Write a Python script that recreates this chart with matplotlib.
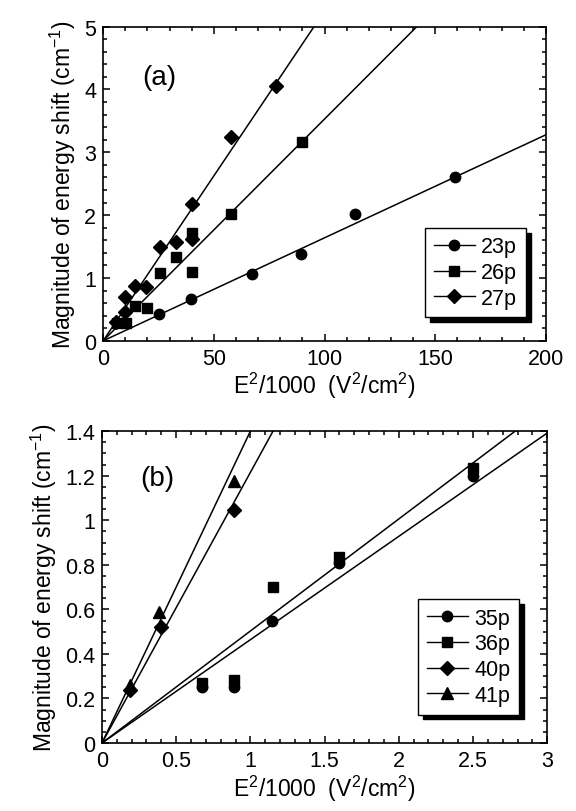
import numpy as np
import matplotlib
matplotlib.use("Agg")
import matplotlib.pyplot as plt
from matplotlib.ticker import MultipleLocator, FormatStrFormatter

plt.rcParams["font.family"] = ["Liberation Sans", "DejaVu Sans"]
plt.rcParams["mathtext.fontset"] = "custom"
plt.rcParams["mathtext.rm"] = "Liberation Sans"
plt.rcParams["mathtext.it"] = "Liberation Sans:italic"
plt.rcParams["mathtext.bf"] = "Liberation Sans:bold"

# -----------------------------
# Dados painel (a)
# -----------------------------
x_23p = [25.4, 39.7, 67.1, 89.4, 113.8, 159.0]
y_23p = [0.43, 0.66, 1.07, 1.38, 2.02, 2.61]

x_26p = [6.2, 10.5, 14.6, 19.8, 25.7, 32.8, 40.2, 40.2, 57.6, 89.7]
y_26p = [0.29, 0.28, 0.56, 0.52, 1.08, 1.34, 1.72, 1.09, 2.02, 3.17]

x_27p = [5.7, 9.9, 9.9, 14.6, 19.5, 25.7, 32.8, 40.2, 40.2, 57.6, 78.0]
y_27p = [0.30, 0.46, 0.70, 0.88, 0.85, 1.49, 1.58, 1.62, 2.17, 3.24, 4.05]

slopes_a = {"23p": 0.0164, "26p": 0.0353, "27p": 0.0525}

# -----------------------------
# Dados painel (b)
# -----------------------------
x_35p = [0.672, 0.89, 1.144, 1.594, 2.5]
y_35p = [0.25, 0.25, 0.55, 0.81, 1.20]

x_36p = [0.672, 0.89, 1.151, 1.594, 2.5]
y_36p = [0.27, 0.285, 0.70, 0.835, 1.235]

x_40p = [0.19, 0.396, 0.89]
y_40p = [0.24, 0.52, 1.045]

x_41p = [0.19, 0.386, 0.89]
y_41p = [0.26, 0.59, 1.175]

slopes_b = {"35p": 0.464, "36p": 0.503, "40p": 1.215, "41p": 1.40}

FS = 15.5
FS_LABEL = 16.5
MS = {"o": 7.5, "s": 7.5, "D": 7.0, "^": 8.5}


def style_axes(ax, xmaj, xmin, ymaj, ymin):
    ax.xaxis.set_major_locator(MultipleLocator(xmaj))
    ax.xaxis.set_minor_locator(MultipleLocator(xmin))
    ax.yaxis.set_major_locator(MultipleLocator(ymaj))
    ax.yaxis.set_minor_locator(MultipleLocator(ymin))
    ax.xaxis.set_major_formatter(FormatStrFormatter("%g"))
    ax.yaxis.set_major_formatter(FormatStrFormatter("%g"))
    ax.tick_params(which="both", direction="in", top=True, right=True,
                   width=1.1, labelsize=FS)
    ax.tick_params(which="major", length=5, pad=5)
    ax.tick_params(which="minor", length=2.8)
    for sp in ax.spines.values():
        sp.set_linewidth(1.2)


def fit_line(ax, slope, xmax):
    xs = np.array([0.0, xmax])
    ax.plot(xs, slope * xs, "-", color="black", lw=1.1, zorder=2)


def add_legend(ax, anchor):
    leg = ax.legend(loc="upper left", bbox_to_anchor=anchor, borderaxespad=0,
                    fontsize=FS, frameon=True, fancybox=False,
                    shadow={"color": "black", "alpha": 1.0, "ox": 3.5, "oy": -3.5},
                    handlelength=1.9, handletextpad=0.3, labelspacing=0.22,
                    borderpad=0.4)
    leg.get_frame().set_edgecolor("black")
    leg.get_frame().set_linewidth(1.0)
    return leg


fig = plt.figure(figsize=(5.76, 8.12), dpi=100)

# ---------- (a) ----------
ax1 = fig.add_axes([0.179, 0.579, 0.769, 0.387])
series_a = [("23p", x_23p, y_23p, "o"), ("26p", x_26p, y_26p, "s"),
            ("27p", x_27p, y_27p, "D")]
for name, xs, ys, m in series_a:
    fit_line(ax1, slopes_a[name], 200)
    ax1.plot(xs, ys, m, color="black", ms=MS[m], ls="none", zorder=3)
    ax1.plot([], [], "-", marker=m, color="black", ms=MS[m], lw=1.0,
             label=name)
ax1.set_xlim(0, 200)
ax1.set_ylim(0, 5)
style_axes(ax1, 50, 10, 1, 0.2)
ax1.set_xlabel(r"E$^2$/1000  (V$^2$/cm$^2$)", fontsize=FS_LABEL, labelpad=1)
ax1.set_ylabel(r"Magnitude of energy shift (cm$^{-1}$)", fontsize=FS_LABEL)
ax1.text(25.5, 4.2, "(a)", fontsize=20, ha="center", va="center")
add_legend(ax1, (0.727, 0.360))

# ---------- (b) ----------
ax2 = fig.add_axes([0.177, 0.0837, 0.773, 0.384])
series_b = [("35p", x_35p, y_35p, "o"), ("36p", x_36p, y_36p, "s"),
            ("40p", x_40p, y_40p, "D"), ("41p", x_41p, y_41p, "^")]
for name, xs, ys, m in series_b:
    fit_line(ax2, slopes_b[name], 3)
    ax2.plot(xs, ys, m, color="black", ms=MS[m], ls="none", zorder=3)
    ax2.plot([], [], "-", marker=m, color="black", ms=MS[m], lw=1.0,
             label=name)
ax2.set_xlim(0, 3)
ax2.set_ylim(0, 1.4)
style_axes(ax2, 0.5, 0.1, 0.2, 0.05)
ax2.set_xlabel(r"E$^2$/1000  (V$^2$/cm$^2$)", fontsize=FS_LABEL, labelpad=1)
ax2.set_ylabel(r"Magnitude of energy shift (cm$^{-1}$)", fontsize=FS_LABEL)
ax2.text(0.37, 1.19, "(b)", fontsize=20, ha="center", va="center")
add_legend(ax2, (0.710, 0.4615))

fig.savefig("out.png", dpi=100)
